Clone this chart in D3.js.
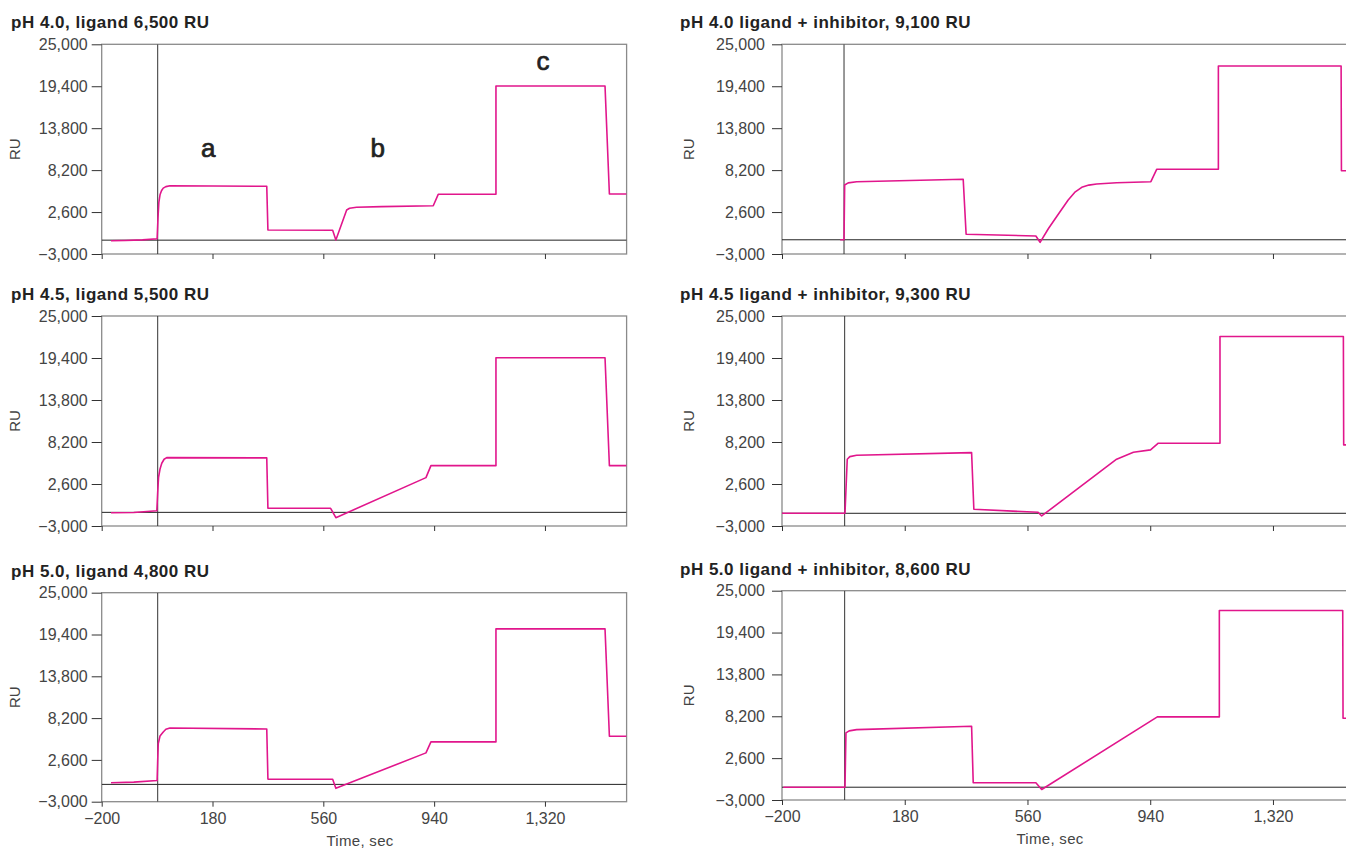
<!DOCTYPE html>
<html>
<head>
<meta charset="utf-8">
<script src="https://cdnjs.cloudflare.com/ajax/libs/d3/7.8.5/d3.min.js"></script>
<style>
  body { margin: 0; background: #fff; }
  svg { display: block; font-family: "Liberation Sans", Arial, Helvetica, sans-serif; }
</style>
</head>
<body>
<svg width="1346" height="850"></svg>
<script>
// axis ticks shared by all six sensorgrams
var xTicks = [-200, 180, 560, 940, 1320];
var yTicks = [-3000, 2600, 8200, 13800, 19400, 25000];

var titles = [
  "pH 4.0, ligand 6,500 RU",
  "pH 4.0 ligand + inhibitor, 9,100 RU",
  "pH 4.5, ligand 5,500 RU",
  "pH 4.5 ligand + inhibitor, 9,300 RU",
  "pH 5.0, ligand 4,800 RU",
  "pH 5.0 ligand + inhibitor, 8,600 RU"
];

// [time (s), response (RU)]
var ph40 = [[-168,-1224],[-120,-1200],[-60,-1120],[-10,-957],[-7,1800],[-4,3900],[0,4900],[5,5450],
  [11,5800],[20,6000],[34,6118],[366,6040],[370,204],[592,164],[603,-1130],[640,2874],[650,3100],
  [674,3234],[760,3330],[937,3448],[954,4970],[1152,4970],[1152,19430],[1526,19430],[1541,5010],[1600,5010]];
var ph40Inh = [[-20,-1100],[-8,-1100],[-6,6211],[5,6500],[31,6652],[361,6972],[370,-370],[586,-597],
  [599,-1438],[625,400],[650,1980],[686,4209],[708,5300],[728,5905],[750,6200],[774,6345],[836,6519],
  [942,6652],[960,8308],[1151,8308],[1151,22100],[1531,22100],[1532,8120],[1600,8120]];
var ph45 = [[-168,-1224],[-90,-1190],[-11,-957],[-8,1500],[-5,3500],[0,4600],[6,5370],[14,5900],
  [23,6118],[366,6080],[370,-640],[585,-640],[603,-1892],[912,3450],[929,5050],[1152,5050],
  [1152,19430],[1526,19430],[1541,5050],[1600,5050]];
var ph45Inh = [[-200,-1305],[-5,-1305],[2,5905],[10,6250],[31,6438],[387,6786],[394,-770],[593,-1171],
  [604,-1665],[836,5905],[888,6839],[941,7146],[965,8040],[1156,8040],[1156,22270],[1538,22270],
  [1539,7814],[1600,7814]];
var ph50 = [[-168,-463],[-90,-380],[-10,-150],[-8,2500],[-6,4796],[0,5800],[11,6345],[20,6700],
  [34,6879],[366,6745],[370,30],[592,0],[603,-1211],[912,3541],[929,5010],[1152,5010],[1152,20150],
  [1526,20150],[1541,5771],[1600,5771]];
var ph50Inh = [[-196,-1290],[-5,-1290],[-2,5978],[8,6250],[31,6419],[387,6860],[392,-702],[586,-702],
  [604,-1597],[962,8116],[1154,8116],[1154,22357],[1536,22357],[1537,7928],[1600,7928]];

var baselines = [-1150, -1100, -1180, -1305, -680, -1290];
var injectionTime = [-8, -8, -8, -6, -8, -6];

var annotLabels = ["a", "b", "c"];
var annotTime = [165, 747, 1313];
var annotRU = [9950, 9950, 21560];

var series = [ph40, ph40Inh, ph45, ph45Inh, ph50, ph50Inh];

var svg = d3.select("svg");
var pink = "#e1168c";

// panel layout: col 0 = ligand only, col 1 = ligand + inhibitor
var cols = [
  {x0: 101.7, x1: 626.6, titleX: 11, ruX: 15, pad: 4, timeX: 360},
  {x0: 782, x1: 1363.4, titleX: 680, ruX: 689, pad: 7, timeX: 1050}
];
var rows = [
  [{top: 44.3, bottom: 254}, {top: 44.3, bottom: 254}],
  [{top: 316, bottom: 526}, {top: 316, bottom: 526}],
  [{top: 592.7, bottom: 801.7}, {top: 590.7, bottom: 800}]
];

var fmt = d3.format(",");

series.forEach(function(data, i) {
  var r = Math.floor(i / 2), c = i % 2;
  var col = cols[c], row = rows[r][c];
  var x = d3.scaleLinear().domain([-200, 1600]).range([col.x0, col.x1]);
  var y = d3.scaleLinear().domain([-3000, 25000]).range([row.bottom, row.top]);
  var g = svg.append("g");

  g.append("text")
    .attr("x", col.titleX)
    .attr("y", row.top - 16)
    .style("font-size", "17px")
    .style("font-weight", "bold")
    .style("letter-spacing", "0.5px")
    .style("fill", "#222")
    .text(titles[i]);

  g.append("text")
    .attr("transform", "translate(" + (col.ruX + 5) + "," + ((row.top + row.bottom) / 2) + ") rotate(-90)")
    .attr("text-anchor", "middle")
    .style("font-size", "15px")
    .style("fill", "#444")
    .text("RU");

  // frame
  g.append("rect")
    .attr("x", col.x0)
    .attr("y", row.top)
    .attr("width", col.x1 - col.x0)
    .attr("height", row.bottom - row.top)
    .style("fill", "none")
    .style("stroke", "#8a8a8a")
    .style("stroke-width", "1.3px");

  var clipId = "clip" + i;
  svg.append("clipPath").attr("id", clipId)
    .append("rect")
      .attr("x", col.x0).attr("y", row.top)
      .attr("width", col.x1 - col.x0).attr("height", row.bottom - row.top);

  var plot = g.append("g").attr("clip-path", "url(#" + clipId + ")");

  plot.append("line")
    .attr("x1", col.x0).attr("x2", col.x1)
    .attr("y1", y(baselines[i])).attr("y2", y(baselines[i]))
    .style("stroke", "#222")
    .style("stroke-width", "1px");

  plot.append("line")
    .attr("x1", x(injectionTime[i])).attr("x2", x(injectionTime[i]))
    .attr("y1", row.top).attr("y2", row.bottom)
    .style("stroke", "#333")
    .style("stroke-width", "1px");

  var line = d3.line()
    .x(function(d) { return x(d[0]); })
    .y(function(d) { return y(d[1]); });

  plot.append("path")
    .datum(data)
    .attr("d", line)
    .style("fill", "none")
    .style("stroke", pink)
    .style("stroke-width", "1.6px")
    .style("stroke-linejoin", "round");

  var yAxis = g.append("g")
    .attr("transform", "translate(" + col.x0 + ",0)")
    .call(d3.axisLeft(y).tickValues(yTicks).tickFormat(fmt).tickSize(10).tickPadding(col.pad));
  yAxis.select(".domain").remove();
  yAxis.selectAll("line").style("stroke", "#333");
  yAxis.selectAll("text")
    .style("font-size", "16px")
    .style("fill", "#444")
    .style("font-family", "'Liberation Sans', Arial, sans-serif");

  var xAxis = g.append("g")
    .attr("transform", "translate(0," + row.bottom + ")")
    .call(d3.axisBottom(x).tickValues(xTicks)
      .tickFormat(r === 2 ? fmt : function() { return ""; })
      .tickSize(5).tickPadding(6));
  xAxis.select(".domain").remove();
  xAxis.selectAll("line").style("stroke", "#333");
  xAxis.selectAll("text")
    .style("font-size", "16px")
    .style("fill", "#444")
    .style("font-family", "'Liberation Sans', Arial, sans-serif");

  if (r === 2) {
    g.append("text")
      .attr("x", col.timeX)
      .attr("y", row.bottom + 44)
      .attr("text-anchor", "middle")
      .style("font-size", "15px")
      .style("letter-spacing", "0.3px")
      .style("fill", "#444")
      .text("Time, sec");
  }

  if (i === 0) {
    g.selectAll(".annot")
      .data(annotLabels)
      .enter().append("text")
        .attr("class", "annot")
        .attr("x", function(d, k) { return x(annotTime[k]); })
        .attr("y", function(d, k) { return y(annotRU[k]); })
        .attr("text-anchor", "middle")
        .style("font-size", "26px")
        .style("fill", "#222")
        .style("stroke", "#222")
        .style("stroke-width", "0.7px")
        .text(function(d) { return d; });
  }
});
</script>
</body>
</html>
